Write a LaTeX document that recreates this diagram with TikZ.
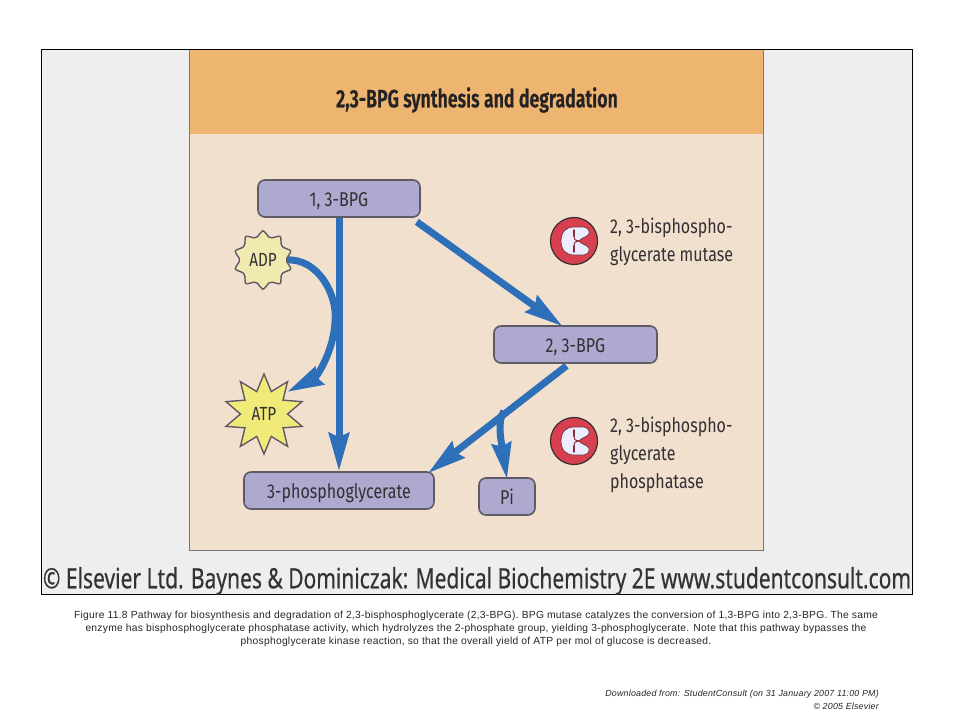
\documentclass[tikz,border=0pt]{standalone}
\usepackage{fontspec}
\usetikzlibrary{arrows.meta,shapes.geometric,calc}
\setmainfont{Liberation Sans}
\newfontfamily\figfont[FakeStretch=0.8]{Fira Sans}
\newfontfamily\figbold[FakeStretch=0.71,FakeBold=0.6]{Fira Sans SemiBold}
\newfontfamily\bandfont[FakeStretch=0.75,FakeBold=0.4]{Noto Sans}
\newfontfamily\capfont[LetterSpace=2.5]{Liberation Sans}
\definecolor{bandgrey}{HTML}{EEEEEE}
\definecolor{orangehead}{HTML}{EDB56F}
\definecolor{panelbody}{HTML}{F1E0CE}
\definecolor{boxfill}{HTML}{ADA9CF}
\definecolor{boxedge}{HTML}{5F5A66}
\definecolor{flow}{HTML}{2D6FB8}
\definecolor{figtext}{HTML}{333033}
\definecolor{enzred}{HTML}{D8404F}
\definecolor{adpfill}{HTML}{F1EAB0}
\definecolor{atpfill}{HTML}{F0EB78}
\pgfdeclarelayer{backdrop}
\pgfdeclarelayer{links}
\pgfsetlayers{backdrop,links,main}
\tikzset{
  x=1pt,y=-1pt,
  pathbox/.style={draw=boxedge,line width=1.6pt,fill=boxfill,rounded corners=7pt,inner sep=0pt,
    text=figtext,text height=15pt,text depth=0pt,font=\figfont\fontsize{20}{22}\selectfont},
  burst/.style={star,star points=10,draw=boxedge,line width=1.4pt,inner sep=0pt,
    text=figtext,font=\figfont\fontsize{19}{21}\selectfont},
  flowline/.style={draw=flow,line width=7pt},
  bighead/.style={-{Stealth[length=38pt,width=20pt,inset=4pt]}},
  smallhead/.style={-{Stealth[length=36pt,width=19pt,inset=3pt]}},
  enzlabel/.style={anchor=north west,align=left,text=figtext,font=\figfont\fontsize{20}{28}\selectfont,inner sep=0pt},
  enzdisc/.style={circle,draw=figtext,line width=1.2pt,fill=enzred,minimum size=47pt,inner sep=0pt},
}
\newcommand{\enzymecut}[1]{%
  \begin{scope}[shift={(#1)}]
  \fill[white!93!blue,draw=figtext!70!enzred,line width=.7pt]
    (-13,0) .. controls (-13,-9) and (-8,-14) .. (0,-14)
    -- (9,-14) .. controls (13,-14) and (16,-11) .. (15,-7)
    .. controls (13,-4) and (7,-3) .. (5,0)
    .. controls (7,3) and (13,4) .. (15,7)
    .. controls (16,11) and (13,14) .. (9,14)
    -- (0,14) .. controls (-8,14) and (-13,9) .. (-13,0) -- cycle;
  \draw[enzred!65!black,line width=1.7pt,line cap=round]
    (0,-11) -- (0,-5) (0,11) -- (0,5);
  \draw[enzred!65!black,line width=1pt] (0,-5) .. controls (0,-1) and (2,0) .. (5,0)
    .. controls (2,0) and (0,1) .. (0,5);
  \end{scope}
}
\begin{document}
\begin{tikzpicture}
\useasboundingbox (0,0) rectangle (960,720);
\begin{pgfonlayer}{backdrop}
\fill[white] (0,0) rectangle (960,720);
\draw[black,line width=1pt,fill=bandgrey] (41.5,49.5) rectangle (912,594);
\fill[panelbody] (189,50) rectangle (763,550);
\fill[orangehead] (189,50) rectangle (763,134);
\draw[boxedge!80!panelbody,line width=1pt] (189,50) -- (189,550.5) -- (763,550.5) -- (763,50);
\end{pgfonlayer}
\node[font=\figbold\fontsize{25}{27}\selectfont,text=figtext!70!black,inner sep=0pt] (title) at (477,100) {2,3-BPG synthesis and degradation};
% boxes
\node[pathbox,minimum width=162pt,minimum height=37pt] (bpg13) at (339,198.5) {1, 3-BPG};
\node[pathbox,minimum width=163pt,minimum height=37pt] (bpg23) at (575.5,344.5) {2, 3-BPG};
\node[pathbox,minimum width=190pt,minimum height=37pt] (pg3) at (339,490.5) {3-phosphoglycerate};
\node[pathbox,minimum width=56pt,minimum height=37pt] (pi) at (507,496.5) {Pi};
% bursts
\node[burst,fill=adpfill,star point ratio=1.32,minimum size=60pt,rounded corners=2pt] (adp) at (263,260) {ADP};
\node[burst,fill=atpfill,star point ratio=1.7,minimum size=80pt] (atp) at (264,414) {ATP};
% connectors
\coordinate (split) at (504,411);
\coordinate (tipA) at ([xshift=-13pt,yshift=-1pt]bpg23.north);
\coordinate (srcB) at ([xshift=-9pt,yshift=-2pt]bpg23.south);
\coordinate (tipC) at ([xshift=89pt,yshift=-2pt]pg3.north);
\begin{pgfonlayer}{links}
\draw[flowline,bighead] (bpg13.south) -- (pg3.north);
\draw[flowline,bighead] ([xshift=-4pt,yshift=-4pt]bpg13.south east) -- (tipA);
\draw[flowline,bighead] (srcB) -- (tipC);
\draw[flowline,smallhead] (split) .. controls (497,422) and (501,440) .. ([yshift=-2pt]pi.north);
\draw[flowline,smallhead] (adp.east) .. controls (318,258) and (338,295) .. (335,322)
  .. controls (333,355) and (315,378) .. (287,392);
\end{pgfonlayer}
% enzymes
\node[enzdisc] (enz1) at (574,241) {};
\node[enzdisc] (enz2) at (574,441) {};
\enzymecut{enz1}
\enzymecut{enz2}
\node[enzlabel] (lab1) at (610,217.5) {2, 3-bisphospho-\\glycerate mutase};
\node[enzlabel] (lab2) at (610,416.5) {2, 3-bisphospho-\\glycerate\\phosphatase};
% band
\node[font=\bandfont\fontsize{28}{30}\selectfont,text=black!80,inner sep=0pt] (band) at (477,581) {© Elsevier Ltd. Baynes \& Dominiczak: Medical Biochemistry 2E www.studentconsult.com};
% caption
\node[font=\capfont\fontsize{10.3}{13}\selectfont,text=black!85,align=center,inner sep=0pt] (caption) at (476,628.5)
 {Figure 11.8 Pathway for biosynthesis and degradation of 2,3-bisphosphoglycerate (2,3-BPG). BPG mutase catalyzes the conversion of 1,3-BPG into 2,3-BPG. The same\\
  enzyme has bisphosphoglycerate phosphatase activity, which hydrolyzes the 2-phosphate group, yielding 3-phosphoglycerate. Note that this pathway bypasses the\\
  phosphoglycerate kinase reaction, so that the overall yield of ATP per mol of glucose is decreased.};
\node[font=\capfont\itshape\fontsize{8.85}{13}\selectfont,text=black!85,align=right,anchor=east,inner sep=0pt] (credit) at (879,699.5)
 {Downloaded from: StudentConsult (on 31 January 2007 11:00 PM)\\© 2005 Elsevier};
\end{tikzpicture}
\end{document}
